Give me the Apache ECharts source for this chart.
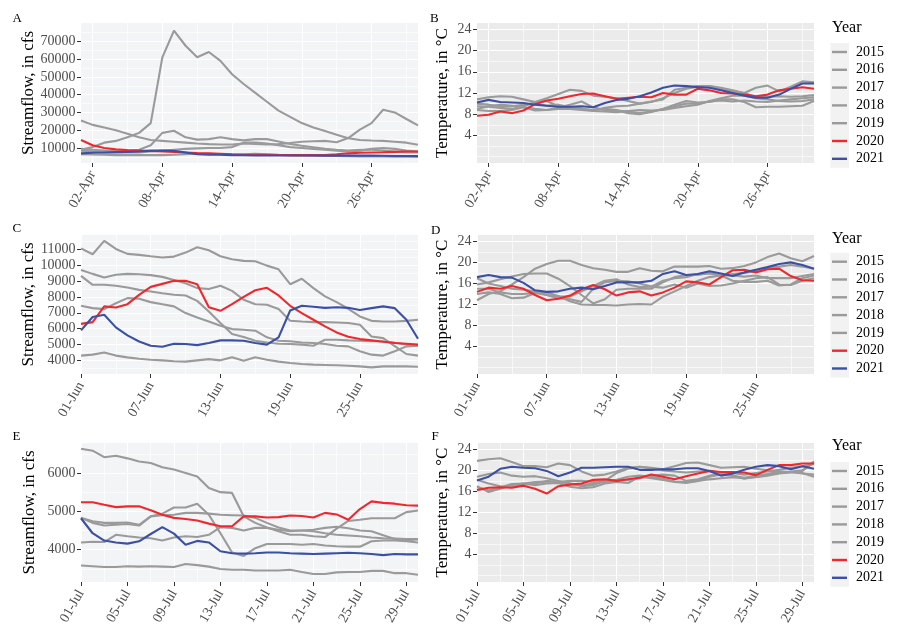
<!DOCTYPE html>
<html>
<head>
<meta charset="utf-8">
<script src="https://cdn.jsdelivr.net/npm/echarts@6.0.0/dist/echarts.min.js"></script>
<style>html,body{margin:0;padding:0;background:#fff}#c{width:900px;height:637px}</style>
</head>
<body>
<div id="c"></div>
<script>
const years = ['2015','2016','2017','2018','2019','2020','2021'];
const yearColors = ['#9A9A9A','#9A9A9A','#9A9A9A','#9A9A9A','#9A9A9A','#F0282D','#3B4FA6'];

const aprDays = ['01-Apr','02-Apr','03-Apr','04-Apr','05-Apr','06-Apr','07-Apr','08-Apr','09-Apr','10-Apr','11-Apr','12-Apr','13-Apr','14-Apr','15-Apr','16-Apr','17-Apr','18-Apr','19-Apr','20-Apr','21-Apr','22-Apr','23-Apr','24-Apr','25-Apr','26-Apr','27-Apr','28-Apr','29-Apr','30-Apr'];
const junDays = ['01-Jun','02-Jun','03-Jun','04-Jun','05-Jun','06-Jun','07-Jun','08-Jun','09-Jun','10-Jun','11-Jun','12-Jun','13-Jun','14-Jun','15-Jun','16-Jun','17-Jun','18-Jun','19-Jun','20-Jun','21-Jun','22-Jun','23-Jun','24-Jun','25-Jun','26-Jun','27-Jun','28-Jun','29-Jun','30-Jun'];
const julDays = ['01-Jul','02-Jul','03-Jul','04-Jul','05-Jul','06-Jul','07-Jul','08-Jul','09-Jul','10-Jul','11-Jul','12-Jul','13-Jul','14-Jul','15-Jul','16-Jul','17-Jul','18-Jul','19-Jul','20-Jul','21-Jul','22-Jul','23-Jul','24-Jul','25-Jul','26-Jul','27-Jul','28-Jul','29-Jul','30-Jul'];

const aprTickLabels = ['02-Apr','08-Apr','14-Apr','20-Apr','26-Apr'];
const aprMinorDays = ['05-Apr','11-Apr','17-Apr','23-Apr','29-Apr'];
const junTickLabels = ['01-Jun','07-Jun','13-Jun','19-Jun','25-Jun'];
const junMinorDays = ['04-Jun','10-Jun','16-Jun','22-Jun','28-Jun'];
const julTickLabels = ['01-Jul','05-Jul','09-Jul','13-Jul','17-Jul','21-Jul','25-Jul','29-Jul'];
const julMinorDays = ['03-Jul','07-Jul','11-Jul','15-Jul','19-Jul','23-Jul','27-Jul'];

const flowTicksA = [10000,20000,30000,40000,50000,60000,70000];
const flowMinorA = [5000,15000,25000,35000,45000,55000,65000,75000];
const flowTicksC = [4000,5000,6000,7000,8000,9000,10000,11000];
const flowMinorC = [3500,4500,5500,6500,7500,8500,9500,10500,11500];
const flowTicksE = [4000,5000,6000];
const flowMinorE = [3500,4500,5500,6500];
const tempTicks = [4,8,12,16,20,24];
const tempMinor = [0,2,6,10,14,18,22];

// Panel A: streamflow, April
const aprFlow2015 = [9000,10500,13000,14000,16000,18500,24000,61000,76000,67500,61000,64000,59000,51500,46000,41000,36000,31000,27500,24000,21500,19500,17500,15500,14500,14200,14000,13500,13000,11800];
const aprFlow2016 = [25500,23000,21500,20000,18000,16000,14500,14000,13500,13000,12500,12200,12000,12000,12500,12300,12000,12200,12800,13500,13800,14000,13200,15600,20300,24000,31500,30000,26300,22700];
const aprFlow2017 = [9500,9000,8500,8200,8200,9000,11500,18500,19700,16000,14700,15000,16000,15000,14300,15000,15000,13700,12200,11300,10400,9600,9000,8500,9000,9000,8500,8000,7500,7500];
const aprFlow2018 = [8500,8000,7500,7500,7500,7500,8000,8500,9000,9500,9800,10000,10000,10500,13000,13000,12500,11500,10500,10000,9500,9000,8500,8000,8500,9500,10000,9500,8500,8000];
const aprFlow2019 = [6500,6300,6200,6000,6000,6000,6000,6000,6200,6500,6800,6800,6500,6300,6500,6800,6500,6200,6000,5800,5600,5500,5500,5400,5300,5200,5200,5100,5100,5100];
const aprFlow2020 = [14500,11500,10000,9200,8800,8600,8300,8000,7800,7500,7200,7000,6800,6500,6300,6200,6200,6100,6000,6000,6000,6100,6500,7000,7300,7500,7600,7800,8000,8000];
const aprFlow2021 = [7000,7300,7500,7700,7800,8000,8500,8600,8400,7500,6500,6200,6200,6000,5900,5800,5800,5800,5800,5800,5800,5700,5700,5700,5700,5700,5600,5500,5500,5400];

// Panel B: temperature, April
const aprTemp2015 = [10.8,11.2,11.4,11.3,10.8,10.3,11.0,11.8,12.6,12.4,11.5,11.3,11.0,10.5,10.0,10.3,11.0,12.0,12.8,13.2,13.3,13.0,12.5,12.0,13.0,13.4,12.3,13.2,14.2,14.0];
const aprTemp2016 = [9.0,9.5,9.8,9.6,9.3,9.0,8.8,9.2,9.8,10.4,9.3,8.8,8.7,8.5,8.2,8.5,9.0,9.8,10.5,10.2,10.3,10.8,10.8,10.3,9.3,9.4,9.4,9.5,9.6,10.5];
const aprTemp2017 = [8.8,8.6,8.6,8.8,9.3,8.7,8.8,9.0,9.0,8.8,8.6,8.5,8.4,8.6,8.8,8.7,8.8,9.2,9.5,9.8,10.5,11.0,11.5,11.5,11.0,10.8,10.5,10.4,10.5,10.8];
const aprTemp2018 = [9.5,9.4,9.2,9.0,9.5,10.3,10.5,9.5,9.2,9.0,8.8,9.0,8.8,8.2,8.0,8.4,9.0,9.5,10.0,10.0,10.4,10.6,10.4,10.6,10.4,10.3,10.6,10.8,11.0,11.2];
const aprTemp2019 = [10.0,9.8,9.5,9.5,9.8,10.0,9.6,9.8,9.3,9.0,8.7,9.2,9.5,9.6,10.0,10.4,10.8,12.6,13.0,13.3,13.3,12.8,12.3,12.0,11.3,11.3,11.4,11.3,11.4,11.6];
const aprTemp2020 = [7.7,7.9,8.5,8.2,8.7,9.9,10.6,10.9,11.4,11.8,11.9,11.4,10.9,11.1,11.3,11.2,12.0,11.7,11.7,12.8,12.5,12.0,11.9,11.7,11.4,11.7,12.5,12.8,13.1,12.8];
const aprTemp2021 = [10.2,10.7,10.3,10.2,10.1,9.8,9.6,9.4,9.4,9.5,9.3,10.1,10.7,10.9,11.4,12.1,13.0,13.4,13.3,13.1,13.0,12.5,12.0,11.5,11.1,11.1,11.7,12.8,13.8,13.8];

// Panel C: streamflow, June
const junFlow2015 = [11060,10690,11530,11020,10710,10650,10560,10480,10540,10790,11130,10940,10560,10370,10270,10250,9970,9740,8800,9140,8550,8030,7670,7250,6770,6490,6450,6450,6490,6560];
const junFlow2016 = [9700,9450,9220,9390,9450,9430,9370,9260,9070,8860,8550,8500,8700,8380,7820,7540,7500,7230,6500,6450,6410,6410,6390,6350,6240,5500,5400,4900,4400,4300];
const junFlow2017 = [9320,8760,8760,8700,8590,8440,8340,8230,8130,8090,7750,7080,6350,5660,5470,5240,5130,5050,5030,4990,4920,5300,5300,5260,5240,5200,5200,5110,5000,4920];
const junFlow2018 = [7440,7290,7230,7600,7920,7880,7670,7540,7400,6980,6700,6450,6180,5970,5930,5870,5450,5240,5200,5130,5090,5030,4920,4880,4570,4360,4300,4570,4880,4920];
const junFlow2019 = [4300,4360,4500,4300,4190,4100,4040,4000,3940,3920,4000,4080,4000,4190,3980,4190,4040,3920,3830,3770,3730,3710,3690,3660,3620,3560,3620,3620,3620,3600];
const junFlow2020 = [6300,6410,7400,7330,7540,8130,8630,8820,9010,9010,8800,7350,7120,7540,8000,8420,8570,8090,7440,6980,6560,6140,5760,5490,5340,5260,5170,5090,5050,4990];
const junFlow2021 = [5890,6730,6870,6080,5570,5190,4920,4860,5050,5030,4960,5090,5260,5260,5240,5090,4990,5450,7140,7440,7380,7310,7350,7310,7170,7290,7400,7290,6560,5360];

// Panel D: temperature, June
const junTemp2015 = [12.8,14.0,14.5,15.8,17.2,18.8,19.7,20.3,20.3,19.5,18.9,18.6,18.2,18.2,18.9,18.4,18.3,19.2,19.2,19.2,19.3,18.8,18.9,19.3,20.0,21.0,21.7,20.8,20.2,21.2];
const junTemp2016 = [15.8,16.2,16.8,17.3,17.8,17.9,17.9,16.9,15.5,13.8,12.2,13.0,14.8,15.0,15.0,15.0,16.2,17.2,17.6,17.6,18.0,17.5,17.5,17.3,17.5,17.0,17.0,17.0,17.4,17.8];
const junTemp2017 = [14.0,14.3,14.0,13.2,13.3,14.2,14.3,13.6,12.6,12.0,11.9,11.9,11.8,12.0,12.1,12.0,13.5,14.5,15.5,16.5,17.2,17.5,17.8,18.0,18.3,19.0,19.2,19.5,19.2,18.8];
const junTemp2018 = [15.0,15.0,14.3,14.0,14.0,14.2,13.8,13.2,13.0,12.5,15.0,16.2,16.5,16.4,16.0,15.4,15.2,15.8,15.2,16.0,15.5,15.6,16.0,16.5,17.0,17.2,15.8,15.7,16.5,17.0];
const junTemp2019 = [17.0,16.0,15.5,15.0,14.8,14.5,13.8,13.5,13.5,14.5,15.5,16.5,16.8,15.8,15.3,15.4,16.5,17.0,17.2,17.8,17.9,17.5,16.5,16.3,16.3,16.5,15.6,15.8,17.0,17.5];
const junTemp2020 = [14.4,15.2,15.0,15.5,15.0,13.8,12.8,13.1,13.7,14.9,15.7,14.9,13.7,14.3,14.5,13.7,14.3,15.2,16.4,16.2,15.8,17.2,18.5,18.6,18.1,18.7,18.8,17.4,16.6,16.5];
const junTemp2021 = [17.2,17.6,17.2,17.1,16.1,14.7,14.4,14.5,15.0,15.2,14.9,15.5,16.2,16.2,16.2,16.5,17.8,18.3,17.6,17.8,18.3,17.9,17.4,18.1,18.6,19.1,19.7,20.0,19.5,18.8];

// Panel E: streamflow, July
const julFlow2015 = [6630,6580,6410,6450,6380,6300,6260,6150,6090,6000,5910,5610,5500,5480,4870,4700,4580,4480,4390,4390,4350,4330,4550,4750,4780,4820,4820,4820,4980,5020];
const julFlow2016 = [4830,4700,4630,4650,4670,4630,4870,4940,5100,5100,5200,4910,4430,3930,3840,4040,4150,4150,4150,4130,4150,4110,4090,4080,4080,4220,4240,4240,4220,4190];
const julFlow2017 = [4830,4740,4700,4700,4710,4650,4870,4900,4910,4960,4960,4940,4910,4900,4890,4830,4700,4580,4500,4500,4480,4430,4390,4370,4350,4320,4300,4290,4280,4280];
const julFlow2018 = [4190,4210,4200,4390,4350,4320,4300,4240,4320,4350,4330,4390,4590,4570,4500,4570,4570,4520,4480,4500,4520,4570,4600,4560,4500,4480,4380,4280,4250,4270];
const julFlow2019 = [3590,3570,3550,3550,3570,3560,3570,3560,3550,3630,3600,3560,3500,3480,3480,3460,3460,3460,3480,3420,3370,3370,3410,3420,3420,3450,3450,3390,3390,3350];
const julFlow2020 = [5235,5235,5170,5110,5130,5130,5030,4910,4830,4800,4760,4680,4610,4610,4870,4870,4840,4850,4890,4880,4840,4960,4920,4780,5060,5260,5220,5200,5160,5150];
const julFlow2021 = [4820,4430,4240,4190,4160,4220,4410,4590,4420,4130,4230,4190,3960,3910,3900,3910,3930,3930,3910,3900,3890,3900,3910,3920,3910,3890,3860,3890,3880,3880];

// Panel F: temperature, July
const julTemp2015 = [21.8,22.1,22.3,21.6,20.8,20.8,20.6,21.3,21.0,19.8,19.0,19.2,19.8,20.5,20.7,20.5,20.2,20.8,21.4,21.5,21.0,20.5,20.6,20.7,20.3,20.0,19.8,19.7,19.5,18.8];
const julTemp2016 = [18.8,19.3,19.6,19.0,18.8,18.9,18.5,18.0,17.5,17.0,17.2,18.0,19.5,20.3,20.7,20.4,20.0,19.8,19.6,19.8,19.9,19.5,19.0,18.4,18.8,19.2,19.5,19.8,20.0,21.7];
const julTemp2017 = [17.0,15.9,16.5,17.2,17.5,17.8,17.9,17.8,17.5,17.2,17.5,17.8,18.0,18.2,18.5,19.0,19.2,19.0,18.0,18.3,19.0,19.3,19.5,19.2,19.5,19.8,20.1,20.5,20.8,21.2];
const julTemp2018 = [18.2,17.5,17.0,16.8,17.3,17.5,18.0,17.8,18.0,18.0,17.8,18.0,18.2,18.8,19.0,18.8,18.4,17.9,17.8,18.0,18.8,19.2,19.0,18.6,19.0,19.3,19.8,19.7,19.4,19.2];
const julTemp2019 = [16.8,16.2,16.8,17.4,17.5,17.2,17.5,17.6,16.9,16.6,16.8,17.5,17.8,17.6,18.8,18.5,18.2,17.8,17.6,18.0,18.3,18.5,18.7,18.5,18.7,19.0,19.4,19.6,19.9,21.5];
const julTemp2020 = [16.25,16.7,16.8,16.7,17.1,16.5,15.6,17.0,17.3,17.5,18.2,18.3,18.0,18.3,18.6,19.2,18.8,18.3,18.9,19.4,19.9,19.7,19.7,19.6,19.1,20.1,21.0,21.0,21.3,21.3];
const julTemp2021 = [18.1,18.8,20.3,20.7,20.5,20.4,19.9,18.9,19.6,20.5,20.5,20.6,20.7,20.7,20.1,20.1,20.2,20.2,20.4,20.4,19.9,19.0,19.4,20.1,20.7,21.0,20.8,20.2,20.8,20.3];

const FONT = 'Liberation Serif';
const FLOW_BG = '#F3F4F6';
const TEMP_BG = '#EBEBEB';

const panels = [
  {letter:'A', grid:{left:81, top:23, width:337, height:140}, cats:aprDays, ticks:aprTickLabels, minors:aprMinorDays,
   yMin:1560, yMax:80300, yTicks:flowTicksA, yMinor:flowMinorA, yName:'Streamflow, in cfs', nameGap:43, bg:FLOW_BG,
   values:[aprFlow2015,aprFlow2016,aprFlow2017,aprFlow2018,aprFlow2019,aprFlow2020,aprFlow2021]},
  {letter:'B', grid:{left:477, top:23, width:337, height:140}, cats:aprDays, ticks:aprTickLabels, minors:aprMinorDays,
   yMin:-1.2, yMax:25.2, yTicks:tempTicks, yMinor:tempMinor, yName:'Temperature, in °C', nameGap:26, bg:TEMP_BG,
   values:[aprTemp2015,aprTemp2016,aprTemp2017,aprTemp2018,aprTemp2019,aprTemp2020,aprTemp2021]},
  {letter:'C', grid:{left:81, top:235, width:337, height:139}, cats:junDays, ticks:junTickLabels, minors:junMinorDays,
   yMin:3140, yMax:11900, yTicks:flowTicksC, yMinor:flowMinorC, yName:'Streamflow, in cfs', nameGap:43, bg:FLOW_BG,
   values:[junFlow2015,junFlow2016,junFlow2017,junFlow2018,junFlow2019,junFlow2020,junFlow2021]},
  {letter:'D', grid:{left:477, top:235, width:337, height:139}, cats:junDays, ticks:junTickLabels, minors:junMinorDays,
   yMin:-1.2, yMax:25.2, yTicks:tempTicks, yMinor:tempMinor, yName:'Temperature, in °C', nameGap:26, bg:TEMP_BG,
   values:[junTemp2015,junTemp2016,junTemp2017,junTemp2018,junTemp2019,junTemp2020,junTemp2021]},
  {letter:'E', grid:{left:81, top:443, width:337, height:139}, cats:julDays, ticks:julTickLabels, minors:julMinorDays,
   yMin:3160, yMax:6780, yTicks:flowTicksE, yMinor:flowMinorE, yName:'Streamflow, in cfs', nameGap:43, bg:FLOW_BG,
   values:[julFlow2015,julFlow2016,julFlow2017,julFlow2018,julFlow2019,julFlow2020,julFlow2021]},
  {letter:'F', grid:{left:477, top:443, width:337, height:139}, cats:julDays, ticks:julTickLabels, minors:julMinorDays,
   yMin:-1.2, yMax:25.2, yTicks:tempTicks, yMinor:tempMinor, yName:'Temperature, in °C', nameGap:26, bg:TEMP_BG,
   values:[julTemp2015,julTemp2016,julTemp2017,julTemp2018,julTemp2019,julTemp2020,julTemp2021]}
];

const letterPos = [[12.5,12.5],[430,12.5],[12.5,222.5],[431,224],[12.5,430.5],[431.5,430.5]];

const grids = [], xAxes = [], yAxes = [], series = [];
panels.forEach((p, i) => {
  grids.push(Object.assign({show:true, backgroundColor:p.bg, borderWidth:0, containLabel:false}, p.grid));
  const isTick = (idx, v) => p.ticks.indexOf(v) >= 0;
  const isMinor = (idx, v) => p.minors.indexOf(v) >= 0;
  xAxes.push({
    type:'category', gridIndex:i, data:p.cats, boundaryGap:false,
    axisLine:{show:false, onZero:false},
    axisTick:{show:true, length:4, interval:isTick, lineStyle:{color:'#333333', width:1}},
    axisLabel:{interval:isTick, rotate:60, margin:9, fontSize:14, color:'#4D4D4D', fontFamily:FONT},
    splitLine:{show:true, interval:isTick, lineStyle:{color:'#FFFFFF', width:1.1}}
  });
  xAxes.push({
    type:'category', gridIndex:i, data:p.cats, boundaryGap:false, position:'bottom',
    axisLine:{show:false, onZero:false}, axisTick:{show:false}, axisLabel:{show:false},
    splitLine:{show:true, interval:isMinor, lineStyle:{color:'#FFFFFF', width:0.6}}
  });
  yAxes.push({
    type:'value', gridIndex:i, min:p.yMin, max:p.yMax,
    name:p.yName, nameLocation:'middle', nameGap:p.nameGap,
    nameTextStyle:{fontSize:17, color:'#000000', fontFamily:FONT},
    axisLine:{show:false},
    axisTick:{show:true, length:4, customValues:p.yTicks, lineStyle:{color:'#333333', width:1}},
    axisLabel:{customValues:p.yTicks, margin:5.5, fontSize:14, color:'#4D4D4D', fontFamily:FONT, formatter:(v) => String(v)},
    splitLine:{show:true, lineStyle:{color:'#FFFFFF', width:1.1}}
  });
  yAxes.push({
    type:'value', gridIndex:i, min:p.yMin, max:p.yMax, position:'left',
    axisLine:{show:false}, axisTick:{show:false, customValues:p.yMinor}, axisLabel:{show:false, customValues:p.yMinor},
    splitLine:{show:true, lineStyle:{color:'#FFFFFF', width:0.6}}
  });
  years.forEach((y, k) => {
    series.push({
      type:'line', name:y, xAxisIndex:2*i, yAxisIndex:2*i, data:p.values[k],
      symbol:'none', showSymbol:false, smooth:false, silent:true,
      lineStyle:{color:yearColors[k], width:2.1},
      itemStyle:{color:yearColors[k]}
    });
  });
});

const titles = panels.map((p, i) => ({
  text:p.letter, left:letterPos[i][0], top:letterPos[i][1], padding:0,
  textStyle:{fontSize:13, fontWeight:'normal', color:'#000000', fontFamily:FONT}
}));
const legendTops = [45, 254.7, 464];
const yearTitleTops = [19.5, 230.5, 438];
yearTitleTops.forEach(t => titles.push({
  text:'Year', left:832, top:t, padding:0,
  textStyle:{fontSize:16, fontWeight:'normal', color:'#000000', fontFamily:FONT}
}));

const legends = legendTops.map(t => ({
  data:years, orient:'vertical', left:832, top:t, padding:0,
  icon:'rect', itemWidth:15, itemHeight:2.4, itemGap:3.8, selectedMode:false,
  textStyle:{fontSize:14, lineHeight:14, color:'#000000', fontFamily:FONT, padding:[0,0,0,4]}
}));

const graphics = legendTops.map(t => ({
  type:'rect', left:830.5, top:t + 7 - 8.9, silent:true, z:-1,
  shape:{width:18.5, height:124.6}, style:{fill:'#F2F2F2'}
}));

const chart = echarts.init(document.getElementById('c'), null, {renderer:'canvas'});
chart.setOption({
  animation:false,
  backgroundColor:'#FFFFFF',
  textStyle:{fontFamily:FONT},
  title:titles,
  legend:legends,
  graphic:graphics,
  grid:grids,
  xAxis:xAxes,
  yAxis:yAxes,
  series:series
});
</script>
</body>
</html>
